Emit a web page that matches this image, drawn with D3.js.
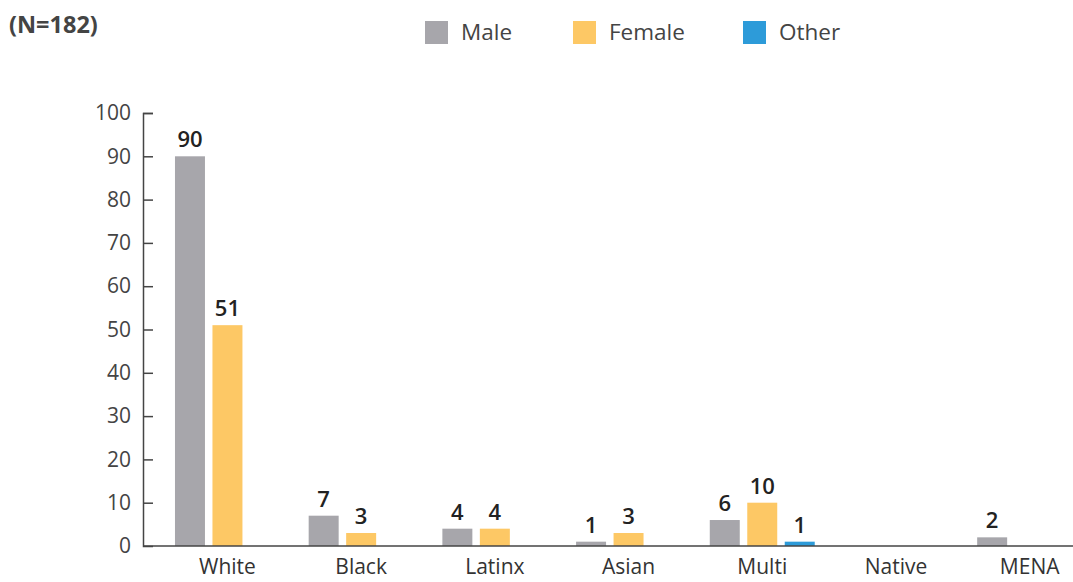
<!DOCTYPE html>
<html><head><meta charset="utf-8">
<script src="https://cdn.jsdelivr.net/npm/d3@7"></script>
<style>body{margin:0;background:#fff}svg{display:block}</style>
</head><body>
<svg id="c" width="1073" height="582"></svg>
<script>
const categories = ["White","Black","Latinx","Asian","Multi","Native","MENA"];
const seriesNames = ["Male","Female","Other"];
const male   = [90,7,4,1,6,0,2];
const female = [51,3,4,3,10,0,0];
const other  = [0,0,0,0,1,0,0];
const yTicks = [0,10,20,30,40,50,60,70,80,90,100];
const colors = ["#A7A6AB","#FDC865","#2D9BD9"];
const title = "(N=182)";

const series = [male, female, other];
const font = "'Open Sans', 'Noto Sans', sans-serif";
const svg = d3.select("#c");

const y = d3.scaleLinear().domain([0,100]).range([546,113]);
const x0 = d3.scaleBand().domain(categories).range([160.6,1096.5]).paddingInner(0.215).paddingOuter(0.1075);
const x1 = d3.scaleBand().domain(seriesNames).range([0,x0.bandwidth()]).paddingInner(0.2).paddingOuter(0);

// title
svg.append("text").attr("x",9).attr("y",33).text(title)
  .attr("font-family",font).attr("font-weight",700).attr("font-size",23.5).attr("fill","#444");

// legend
const legX = [425,573,743];
seriesNames.forEach((s,i)=>{
  svg.append("rect").attr("x",legX[i]).attr("y",21).attr("width",23).attr("height",23).attr("fill",colors[i]);
  svg.append("text").attr("x",legX[i]+36).attr("y",40).text(s)
    .attr("font-family",font).attr("font-size",22.5).attr("fill","#444");
});

// y axis
const ya = svg.append("g").attr("transform","translate(143,0)")
  .call(d3.axisLeft(y).tickValues(yTicks).tickSize(-10).tickPadding(12).tickSizeOuter(-10));
ya.select(".domain").attr("stroke","#444").attr("stroke-width",1.5);
ya.selectAll(".tick line").attr("stroke","#444").attr("stroke-width",1.5);
ya.selectAll(".tick text").attr("font-family",font).attr("font-size",21).attr("fill","#444");
ya.selectAll(".tick").filter(d=>d===0).select("line").remove();

// bars
const g = svg.append("g");
categories.forEach((c,ci)=>{
  seriesNames.forEach((s,si)=>{
    const v = series[si][ci];
    if (v<=0) return;
    const bx = x0(c)+x1(s);
    g.append("rect").attr("x",bx).attr("y",y(v)).attr("width",x1.bandwidth()).attr("height",y(0)-y(v)).attr("fill",colors[si]);
    g.append("text").attr("x",bx+x1.bandwidth()/2).attr("y",y(v)-9).attr("text-anchor","middle").text(v)
      .attr("font-family",font).attr("font-weight",600).attr("font-size",22).attr("fill","#222");
  });
});

// x axis
const xa = svg.append("g").attr("transform","translate(0,546)")
  .call(d3.axisBottom(x0).tickSize(0).tickPadding(13));
xa.select(".domain").attr("d","M143,0H1073").attr("stroke","#444").attr("stroke-width",1.5);
xa.selectAll(".tick text").attr("font-family",font).attr("font-size",21).attr("fill","#333");
</script>
</body></html>
